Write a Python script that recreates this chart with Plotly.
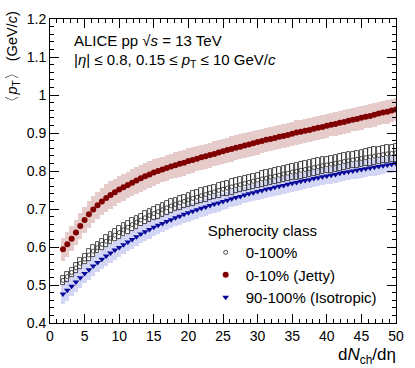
import plotly.graph_objects as go

# charged-particle multiplicity classes, N_ch = 3..80 in |eta| < 0.8
nch = list(range(3, 81))
dndeta = [n / 1.6 for n in nch]

# <pT> (GeV/c) for each spherocity class
mpt_all = [
    0.512, 0.522, 0.533, 0.545, 0.557, 0.568, 0.579, 0.589, 0.598, 0.607, 0.615, 0.623, 0.631, 0.638,
    0.645, 0.652, 0.659, 0.665, 0.671, 0.677, 0.683, 0.688,
    0.693, 0.698, 0.703, 0.708, 0.712, 0.716, 0.720, 0.724,
    0.728, 0.731, 0.735, 0.738, 0.742, 0.745, 0.749, 0.752,
    0.755, 0.758, 0.761, 0.764, 0.767, 0.770, 0.773, 0.776,
    0.779, 0.781, 0.784, 0.786, 0.789, 0.792, 0.794, 0.797,
    0.799, 0.802, 0.804, 0.806, 0.809, 0.811, 0.814, 0.816,
    0.818, 0.820, 0.822, 0.825, 0.827, 0.829, 0.831, 0.833,
    0.835, 0.837, 0.839, 0.841, 0.843, 0.845, 0.846, 0.848,
]
mpt_jetty = [
    0.594, 0.607, 0.622, 0.638, 0.655, 0.671, 0.686, 0.699, 0.710, 0.720, 0.729, 0.737, 0.744, 0.751,
    0.757, 0.763, 0.769, 0.775, 0.781, 0.786, 0.791, 0.796,
    0.800, 0.804, 0.808, 0.812, 0.815, 0.819, 0.822, 0.826,
    0.829, 0.832, 0.836, 0.839, 0.842, 0.845, 0.849, 0.852,
    0.855, 0.858, 0.861, 0.864, 0.867, 0.870, 0.873, 0.876,
    0.879, 0.882, 0.884, 0.887, 0.890, 0.892, 0.895, 0.898,
    0.901, 0.903, 0.906, 0.908, 0.911, 0.914, 0.916, 0.919,
    0.922, 0.924, 0.927, 0.929, 0.932, 0.935, 0.937, 0.940,
    0.943, 0.945, 0.948, 0.951, 0.954, 0.956, 0.959, 0.962,
]
mpt_iso = [
    0.476, 0.486, 0.497, 0.508, 0.519, 0.530, 0.540, 0.550, 0.559, 0.568, 0.576, 0.584, 0.592, 0.599,
    0.606, 0.613, 0.620, 0.627, 0.634, 0.640, 0.646, 0.652,
    0.657, 0.662, 0.667, 0.672, 0.677, 0.681, 0.686, 0.690,
    0.694, 0.698, 0.702, 0.705, 0.709, 0.713, 0.716, 0.720,
    0.723, 0.727, 0.730, 0.733, 0.737, 0.740, 0.743, 0.746,
    0.749, 0.752, 0.754, 0.757, 0.760, 0.762, 0.765, 0.768,
    0.770, 0.773, 0.775, 0.777, 0.780, 0.782, 0.785, 0.787,
    0.789, 0.791, 0.794, 0.796, 0.798, 0.800, 0.802, 0.804,
    0.806, 0.808, 0.810, 0.812, 0.814, 0.816, 0.818, 0.820,
]

# systematic uncertainties (GeV/c)
sys_all = [0.013, 0.013, 0.013, 0.014, 0.014, 0.014, 0.015, 0.015, 0.015, 0.015, 0.016, 0.016, 0.016, 0.016] + \
    [0.017] * 8 + [0.018] * 8 + [0.019] * 8 + [0.020] * 8 + [0.021] * 8 + [0.022] * 16 + [0.023] * 8
sys_jetty = [0.031, 0.032, 0.033, 0.034, 0.035, 0.035, 0.036, 0.036, 0.036, 0.036, 0.036, 0.036, 0.036, 0.036] + \
    [0.035] * 8 + [0.034] * 8 + [0.033] * 16 + [0.032] * 16 + [0.031] * 16
sys_iso = [0.027, 0.027, 0.027, 0.027, 0.026, 0.026, 0.026, 0.026, 0.025, 0.025, 0.025, 0.025, 0.025, 0.024] + \
    [0.024] * 8 + [0.023] * 16 + [0.022] * 40

y_ticks = [0.4, 0.5, 0.6, 0.7, 0.8, 0.9, 1.0, 1.1, 1.2]
y_labels = ["0.4", "0.5", "0.6", "0.7", "0.8", "0.9", "1", "1.1", "1.2"]
x_ticks = [0, 5, 10, 15, 20, 25, 30, 35, 40, 45, 50]

FONT = "Liberation Sans, Arial, Helvetica, sans-serif"

fig = go.Figure()

# --- systematic bands / boxes ---
fig.add_trace(go.Bar(x=dndeta, y=[2 * s for s in sys_jetty], base=[m - s for m, s in zip(mpt_jetty, sys_jetty)],
                     width=0.625, marker=dict(color="rgba(140,20,20,0.22)", line=dict(width=0)), showlegend=False))
fig.add_trace(go.Bar(x=dndeta, y=[2 * s for s in sys_iso], base=[m - s for m, s in zip(mpt_iso, sys_iso)],
                     width=0.625, marker=dict(color="rgba(40,50,210,0.2)", line=dict(width=0)), showlegend=False))
fig.add_trace(go.Bar(x=dndeta, y=[2 * s for s in sys_all], base=[m - s for m, s in zip(mpt_all, sys_all)],
                     width=0.55, marker=dict(color="rgba(0,0,0,0)", line=dict(width=0.8, color="#222222")),
                     showlegend=False))

# --- points ---
fig.add_trace(go.Scatter(x=dndeta, y=mpt_all, mode="markers", name="0-100%", legendgroup="a",
                         marker=dict(symbol="circle-open", size=4, color="#333333", line=dict(width=0.9))))
fig.add_trace(go.Scatter(x=dndeta, y=mpt_jetty, mode="markers", name="0-10% (Jetty)", legendgroup="b",
                         marker=dict(symbol="circle", size=6, color="#800000")))
fig.add_trace(go.Scatter(x=dndeta, y=mpt_iso, mode="markers", name="90-100% (Isotropic)", legendgroup="c",
                         marker=dict(symbol="triangle-down", size=6, color="#0a0a9a")))

axis_common = dict(showline=True, linecolor="black", linewidth=1, mirror="ticks", ticks="inside",
                   tickcolor="black", showgrid=False, zeroline=False,
                   tickfont=dict(family=FONT, size=14, color="black"))

fig.update_xaxes(range=[0, 50], tickvals=x_ticks, ticklen=9,
                 minor=dict(dtick=1, ticklen=4, ticks="inside", tickcolor="black", showgrid=False),
                 **axis_common)
fig.update_yaxes(range=[0.4, 1.2], tickvals=y_ticks, ticktext=y_labels, ticklen=9,
                 minor=dict(dtick=0.02, ticklen=4, ticks="inside", tickcolor="black", showgrid=False),
                 **axis_common)

# axis titles, ROOT style (aligned to the end of the axes)
fig.add_annotation(text="〈<i>p</i><sub>T</sub>〉 (GeV/<i>c</i>)", textangle=-90, xref="paper", yref="paper",
                   x=-0.108, y=1.03, xanchor="center", yanchor="top", showarrow=False,
                   font=dict(family=FONT, size=14.5, color="black"))
fig.add_annotation(text="d<i>N</i><sub>ch</sub>/dη", xref="paper", yref="paper", x=1.005, y=-0.066,
                   xanchor="right", yanchor="top", showarrow=False,
                   font=dict(family=FONT, size=17, color="black"))

# header text
fig.add_annotation(text="ALICE pp √<i>s</i> = 13 TeV", xref="paper", yref="paper", x=0.064, y=0.93,
                   xanchor="left", yanchor="middle", showarrow=False,
                   font=dict(family=FONT, size=15, color="black"))
fig.add_annotation(text="|<i>η</i>| ≤ 0.8, 0.15 ≤ <i>p</i><sub>T</sub> ≤ 10 GeV/<i>c</i>", xref="paper",
                   yref="paper", x=0.064, y=0.865, xanchor="left", yanchor="middle", showarrow=False,
                   font=dict(family=FONT, size=15, color="black"))

fig.update_layout(
    width=415, height=368,
    margin=dict(l=50, r=11, t=13, b=45),
    plot_bgcolor="white", paper_bgcolor="white",
    barmode="overlay", bargap=0,
    legend=dict(x=0.45, y=0.35, xanchor="left", yanchor="top", bgcolor="rgba(0,0,0,0)",
                title=dict(text="Spherocity class", font=dict(family=FONT, size=15, color="black")),
                font=dict(family=FONT, size=15, color="black"), tracegroupgap=0,
                itemsizing="trace"),
)

fig.write_html("out.html", config={"displayModeBar": False},
               post_script="document.body.style.margin='0';document.body.style.overflow='hidden';")
